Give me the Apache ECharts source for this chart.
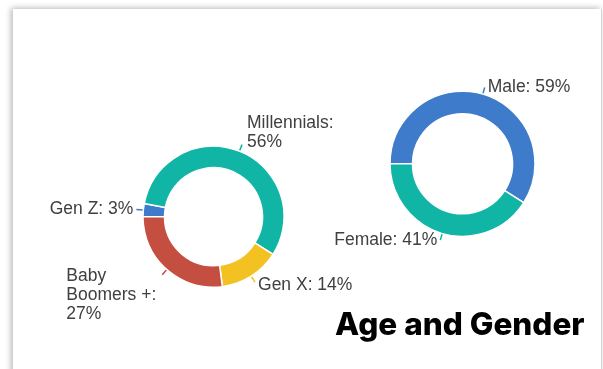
<!DOCTYPE html>
<html>
<head>
<meta charset="utf-8">
<script src="https://cdn.jsdelivr.net/npm/echarts@6/dist/echarts.min.js"></script>
<style>
  html, body { margin: 0; padding: 0; background: #ffffff; }
  body { width: 603px; height: 369px; position: relative; overflow: hidden; }
  #card {
    position: absolute; left: 13px; top: 9px; width: 588px; height: 400px;
    background: #ffffff;
    box-shadow: -2px -1px 6px rgba(0,0,0,0.28);
    border-right: 1px solid #d4d4d4;
  }
  #chart { position: absolute; left: 0; top: 0; width: 603px; height: 369px; }
</style>
</head>
<body>
<div id="card"></div>
<div id="chart"></div>
<script>
// Age groups (share of audience, %)
const ageNames = ['Gen Z', 'Millennials', 'Gen X', 'Baby Boomers +'];
const ageValues = [3, 56, 14, 27];
const ageColors = ['#3e7bca', '#10b5a6', '#f3c222', '#c44e3f'];

// Gender split (%)
const genderNames = ['Male', 'Female'];
const genderValues = [59, 41];
const genderColors = ['#3e7bca', '#10b5a6'];

const titleText = 'Age and Gender';

const FONT = '"Liberation Sans", Arial, sans-serif';

// Long names wrap onto extra lines; every line is left-aligned in its box
const labelText = (name, value) => {
  let lines;
  if (name === 'Baby Boomers +') lines = ['Baby', 'Boomers +:', value + '%'];
  else if (name.length > 8) lines = [name + ':', value + '%'];
  else lines = [name + ': ' + value + '%'];
  return lines.map(l => '{t|' + l + '}').join('\n');
};

// Wrapped labels sit beside the end of their leader line rather than centred on it
const labelPadding = {
  'Millennials': [0, 0, 23, 2],
  'Gen X': [6, 0, 0, 0],
  'Baby Boomers +': [41, 3, 0, 0]
};

const ringSeries = (names, values, colors, center, radius) => ({
  type: 'pie',
  center: center,
  radius: radius,
  startAngle: 180,
  clockwise: true,
  avoidLabelOverlap: false,
  silent: true,
  itemStyle: { borderColor: '#ffffff', borderWidth: 1.5 },
  label: {
    show: true,
    position: 'outside',
    formatter: p => labelText(p.name, p.value),
    fontFamily: FONT,
    fontSize: 17.5,
    lineHeight: 19,
    color: '#404040',
    distanceToLabelLine: 3,
    rich: {
      t: { align: 'left', fontFamily: FONT, fontSize: 17.5, lineHeight: 19, color: '#404040' }
    }
  },
  labelLine: { show: true, length: 7, length2: 0, smooth: false, lineStyle: { width: 1.5 } },
  data: names.map((n, i) => ({
    name: n, value: values[i],
    itemStyle: { color: colors[i] },
    label: labelPadding[n] ? { padding: labelPadding[n] } : undefined,
    labelLine: { lineStyle: { color: colors[i] } }
  }))
});

const chart = echarts.init(document.getElementById('chart'), null, { renderer: 'canvas' });
chart.setOption({
  animation: false,
  backgroundColor: 'transparent',
  title: {
    text: titleText,
    left: 335, top: 310,
    padding: 0,
    textStyle: { fontFamily: 'Inter, "Open Sans", sans-serif', fontWeight: 800, fontSize: 31.5, color: '#000000' }
  },
  series: [
    ringSeries(ageNames, ageValues, ageColors, [213.5, 216.7], [49, 70.5]),
    ringSeries(genderNames, genderValues, genderColors, [462.5, 163.8], [50, 72.5])
  ]
});
</script>
</body>
</html>
